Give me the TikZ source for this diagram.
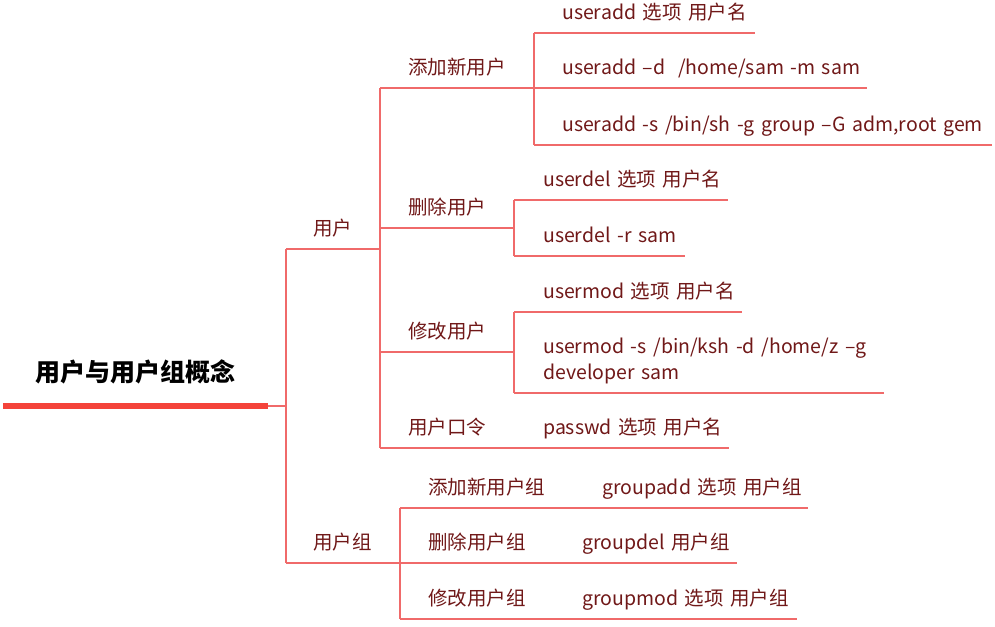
\documentclass[tikz,border=0pt]{standalone}
\usepackage{fontspec}
\setmainfont{Noto Sans CJK SC}
\definecolor{linered}{HTML}{F06A6A}
\definecolor{textred}{HTML}{701818}
\definecolor{barred}{HTML}{F4433A}
\tikzset{
    topic/.style={anchor=south west, inner sep=0pt, text depth=13pt, text=textred, font=\fontsize{19.5}{26}\selectfont},
    leaf/.style={topic, align=left, text width=#1},
    branch/.style={draw=linered, line width=1.3pt},
}
\begin{document}
\begin{tikzpicture}[x=1pt, y=-1pt]
        \useasboundingbox (0,0) rectangle (995,626);
        \node[anchor=south, inner sep=0pt, text depth=24.5pt, minimum width=265pt, font=\bfseries\fontsize{25}{28}\selectfont] (root) at (135.5,406) {用户与用户组概念};
        \node[topic] (user) at (313,249) {用户};
        \node[topic] (group) at (313,563) {用户组};
        \node[topic] (add) at (408,88) {添加新用户};
        \node[topic] (del) at (408,228) {删除用户};
        \node[topic] (mod) at (408,352) {修改用户};
        \node[topic] (pwd) at (408,448) {用户口令};
        \node[topic] (gadd) at (428,508) {添加新用户组};
        \node[topic] (gdel) at (428,563) {删除用户组};
        \node[topic] (gmod) at (428,619) {修改用户组};
        \node[leaf=193pt] (add1) at (562,33) {\mbox{useradd 选项 用户名}};
        \node[leaf=305pt] (add2) at (562,88) {\mbox{useradd –d\ \ /home/sam -m sam}};
        \node[leaf=430pt] (add3) at (562,145) {\mbox{useradd -s /bin/sh -g group –G adm,root gem}};
        \node[leaf=185pt] (del1) at (543,200) {\mbox{userdel 选项 用户名}};
        \node[leaf=142pt] (del2) at (543,256) {\mbox{userdel -r sam}};
        \node[leaf=199pt] (mod1) at (543,312) {\mbox{usermod 选项 用户名}};
        \node[leaf=341pt, text depth=39pt] (mod2) at (543,393) {\mbox{usermod -s /bin/ksh -d /home/z –g}\\developer sam};
        \node[leaf=186pt] (pwd1) at (543,448) {\mbox{passwd 选项 用户名}};
        \node[leaf=206pt] (gadd1) at (602,508) {\mbox{groupadd 选项 用户组}};
        \node[leaf=155pt] (gdel1) at (582,563) {\mbox{groupdel 用户组}};
        \node[leaf=215pt] (gmod1) at (582,619) {\mbox{groupmod 选项 用户组}};
        \coordinate (v0) at (286,406);
        \coordinate (vU) at (380,249);
        \coordinate (vG) at (400,563);
        \coordinate (vA) at (534,88);
        \coordinate (vD) at (514,228);
        \coordinate (vM) at (514,352);
        \draw[barred, line width=6pt] (root.south west) -- (root.south east);
        \draw[branch] (root.south east) -- (v0);
        \draw[branch] (v0 |- user.south) -- (v0 |- group.south);
        \draw[branch] (v0 |- user.south) -- (vU);
        \draw[branch] (v0 |- group.south) -- (vG);
        \draw[branch] (vU |- add.south) -- (vU |- pwd.south);
        \foreach \k/\c in {add/vA, del/vD, mod/vM}
            \draw[branch] (vU |- \k.south) -- (\c);
        \draw[branch] (vU |- pwd.south) -- (pwd1.south east);
        \draw[branch] (vA |- add1.south) -- (vA |- add3.south);
        \draw[branch] (vD |- del1.south) -- (vD |- del2.south);
        \draw[branch] (vM |- mod1.south) -- (vM |- mod2.south);
        \draw[branch] (vG |- gadd.south) -- (vG |- gmod.south);
        \foreach \k/\c in {add1/vA, add2/vA, add3/vA, del1/vD, del2/vD, mod1/vM, mod2/vM, gadd1/vG, gdel1/vG, gmod1/vG}
            \draw[branch] (\c |- \k.south) -- (\k.south east);
\end{tikzpicture}
\end{document}
